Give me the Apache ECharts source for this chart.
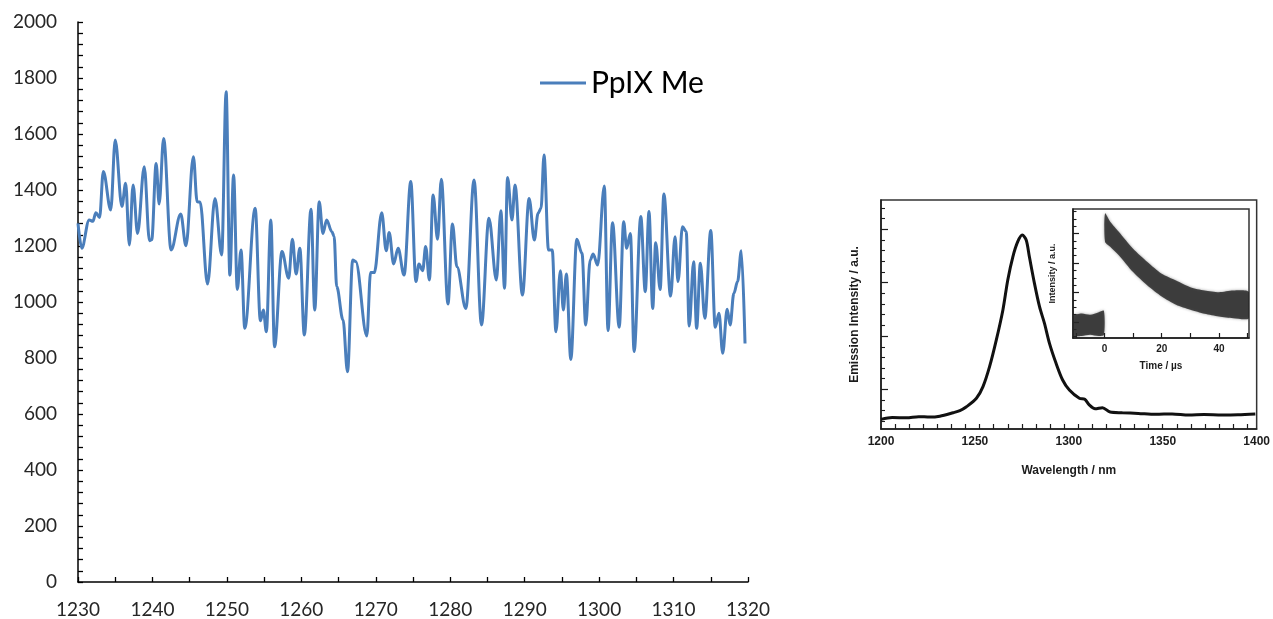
<!DOCTYPE html>
<html>
<head>
<meta charset="utf-8">
<script src="https://cdn.jsdelivr.net/npm/echarts@6/dist/echarts.min.js"></script>
<style>
  html, body { margin: 0; padding: 0; background: #fff; }
  #chart { width: 1273px; height: 619px; }
</style>
</head>
<body>
<div id="chart"></div>
<script>
// PpIX Me emission trace (wavelength in nm, intensity in counts)
const wavelength = [
  1230.0, 1230.5, 1231.5, 1232.0, 1232.4, 1232.9, 1233.4, 1234.4, 1235.0, 1235.9,
  1236.4, 1236.9, 1237.4, 1238.0, 1238.9, 1239.6, 1239.9, 1240.5, 1240.9, 1241.5,
  1242.5, 1243.8, 1244.5, 1245.5, 1246.0, 1246.4, 1247.4, 1248.4, 1249.3, 1249.9,
  1250.4, 1250.9, 1251.4, 1251.9, 1252.4, 1253.8, 1254.5, 1254.9, 1255.3, 1255.9,
  1256.4, 1257.4, 1258.3, 1258.8, 1259.3, 1259.8, 1260.4, 1261.3, 1261.8, 1262.4,
  1262.9, 1263.4, 1264.1, 1264.4, 1264.75, 1265.6, 1266.2, 1266.9, 1267.3, 1268.8,
  1269.3, 1269.8, 1270.8, 1271.4, 1271.8, 1272.4, 1273.0, 1273.8, 1274.7, 1275.4,
  1275.8, 1276.3, 1276.7, 1277.2, 1277.7, 1278.3, 1278.8, 1279.7, 1280.3, 1280.9,
  1282.1, 1283.2, 1284.2, 1285.2, 1286.2, 1286.8, 1287.3, 1287.7, 1288.3, 1288.7,
  1289.7, 1290.6, 1291.3, 1291.8, 1292.2, 1292.6, 1293.2, 1293.7, 1294.2, 1294.8,
  1295.2, 1295.6, 1296.2, 1297.0, 1297.7, 1298.2, 1298.8, 1299.2, 1299.8, 1300.7,
  1301.2, 1301.8, 1302.7, 1303.3, 1303.7, 1304.2, 1304.7, 1305.6, 1306.2, 1306.7,
  1307.2, 1307.6, 1308.2, 1308.7, 1309.6, 1310.2, 1310.6, 1311.2, 1311.7, 1312.1,
  1312.7, 1313.1, 1313.6, 1314.2, 1315.0, 1315.6, 1316.1, 1316.6, 1317.2, 1317.6,
  1318.1, 1318.6, 1319.1, 1319.6
];
const intensity = [
  1281, 1192, 1293, 1288, 1319, 1302, 1466, 1329, 1579, 1341,
  1424, 1204, 1418, 1245, 1483, 1219, 1222, 1495, 1350, 1584,
  1186, 1314, 1201, 1519, 1358, 1357, 1064, 1370, 1168, 1751,
  1096, 1454, 1045, 1186, 906, 1335, 933, 971, 894, 1293,
  840, 1180, 1085, 1224, 1100, 1192, 882, 1331, 971, 1358,
  1245, 1293, 1251, 1235, 1055, 936, 751, 1150, 1145, 879,
  1105, 1105, 1319, 1183, 1248, 1136, 1192, 1096, 1430, 1073,
  1136, 1112, 1198, 1079, 1382, 1224, 1438, 993, 1279, 1126,
  977, 1436, 918, 1299, 1079, 1326, 1049, 1445, 1293, 1418,
  1025, 1370, 1221, 1317, 1335, 1525, 1186, 1186, 894, 1112,
  971, 1100, 795, 1224, 1174, 918, 1150, 1171, 1132, 1414,
  898, 1283, 910, 1287, 1192, 1245, 823, 1305, 1037, 1323,
  977, 1212, 1045, 1386, 1021, 1233, 1073, 1269, 1251, 914,
  1144, 906, 1138, 942, 1255, 910, 960, 817, 974, 918,
  1031, 1073, 1183, 852
];
const seriesName = 'PpIX Me';

// Reference emission spectrum (wavelength in nm, intensity in a.u.)
const specWavelength = [
  1200, 1206, 1213.6, 1220, 1226, 1231.3, 1238.4, 1242, 1245.5, 1250.8,
  1254.3, 1257.8, 1261.4, 1264.9, 1267.5, 1270.2, 1272.8, 1275.2, 1277.3, 1279.0,
  1281.7, 1284.4, 1287.0, 1289.7, 1293.2, 1296.7, 1300.3, 1305.6, 1308.5, 1310.9,
  1314, 1317.9, 1322, 1328.5, 1337, 1346.3, 1355, 1363.9, 1372, 1381.6,
  1390, 1399.3
];
const specIntensity = [
  4.2, 5.0, 4.9, 5.4, 5.2, 5.6, 7.1, 8.0, 9.7, 13.4,
  18.5, 27.2, 38.9, 52.0, 65.1, 75.2, 81.8, 84.7, 82.5, 75.2,
  63.6, 53.4, 46.2, 37.4, 28.7, 21.4, 17.0, 13.4, 13.0, 10.5,
  8.8, 9.3, 7.4, 7.1, 6.8, 6.4, 6.6, 6.1, 6.3, 6.1,
  6.2, 6.6
];
const specXLabels = [1200, 1250, 1300, 1350, 1400];
const specXTicks = [
  1207.5, 1215, 1222.5, 1230, 1237.5, 1245, 1252.5, 1260, 1267.5, 1275,
  1282.5, 1290, 1297.5, 1305, 1312.5, 1320, 1327.5, 1335, 1342.5, 1350,
  1357.5, 1365, 1372.5, 1380, 1387.5, 1395
];
const specYMajorTicks = [17.3, 40.6, 63.9, 87.2];
const specYMinorTicks = [
  3.3, 8.0, 12.6, 22.0, 26.6, 31.3, 35.9, 45.3, 49.9, 54.6,
  59.2, 68.6, 73.2, 77.9, 82.5, 91.9, 96.5
];

// Lifetime trace (time in µs): spread of the measured points, before and after the pulse
const preTime   = [-11, -8, -5, -2, -0.2];
const preLower  = [2, 1.5, 2.5, 1.5, 2.5];
const preUpper  = [17, 19, 18, 20, 21];
const decayTime  = [0.2, 2, 5, 10, 15, 20, 25, 30, 35, 40, 45, 50.5];
const decayLower = [74.6, 70.7, 64.2, 51.1, 40.7, 32.2, 25.8, 21.9, 18.8, 16.7, 15.4, 15.4];
const decayUpper = [96.6, 90.2, 82.4, 69.2, 58.9, 49.8, 44.6, 39.4, 36.8, 35.5, 36.8, 35.5];
const decayXLabels = [0, 20, 40];
const decayXTicks = [-10, 0, 10, 20, 30, 40, 50];
const decayYMajorTicks = [12.5, 35.3, 58.1, 80.9];
const decayYMinorTicks = [
  1.1, 6.8, 18.2, 23.9, 29.6, 41.0, 46.7, 52.4, 63.8, 69.5,
  75.2, 86.6, 92.3, 98.0
];

const mainSeries = wavelength.map((x, i) => [x, intensity[i]]);
const specSeries = specWavelength.map((x, i) => [x, specIntensity[i]]);
const bands = [
  { t: preTime, lo: preLower, hi: preUpper },
  { t: decayTime, lo: decayLower, hi: decayUpper }
];

const mainFont = 'Lato, "Open Sans", sans-serif';
const figFont = '"Liberation Sans", Arial, sans-serif';
const ink = '#1c1c1c';
const plain = v => String(v);

const chart = echarts.init(document.getElementById('chart'), null, { renderer: 'canvas' });

const plainAxis = {
  splitLine: { show: false },
  axisLine: { show: true, onZero: false, lineStyle: { color: ink, width: 1.5 } },
  axisTick: { inside: true, length: 5, lineStyle: { color: ink, width: 1.2 } }
};

// Filled envelope of a point cloud, drawn as a polygon through the axis scales
function bandRenderer(params, api) {
  const band = bands[params.dataIndex];
  const upper = band.t.map((t, i) => api.coord([t, band.hi[i]]));
  const lower = band.t.map((t, i) => api.coord([t, band.lo[i]])).reverse();
  return {
    type: 'polygon',
    shape: { points: upper.concat(lower), smooth: 0.25 },
    style: { fill: '#262626', opacity: 0.82, shadowBlur: 3, shadowColor: 'rgba(60,60,60,0.6)' }
  };
}

chart.setOption({
  animation: false,
  backgroundColor: '#ffffff',
  legend: {
    data: [seriesName],
    left: 540,
    top: 68,
    padding: 0,
    icon: 'rect',
    itemWidth: 46,
    itemHeight: 3,
    textStyle: { fontFamily: mainFont, fontSize: 30, color: '#000' }
  },
  grid: [
    { left: 78, top: 22, width: 670, height: 560, containLabel: false },
    { left: 881, top: 200, width: 377, height: 229, show: true,
      borderColor: '#333', borderWidth: 1.5, backgroundColor: '#fff' },
    { left: 1073, top: 209, width: 176, height: 129, show: true,
      borderColor: '#333', borderWidth: 1.5, backgroundColor: '#fff' }
  ],
  xAxis: [
    {
      gridIndex: 0, type: 'value', min: 1230, max: 1320, interval: 10,
      splitLine: { show: false },
      axisLine: { show: true, onZero: false, lineStyle: { color: '#000', width: 1.5 } },
      axisTick: { show: true, inside: true, length: 5, lineStyle: { color: '#000', width: 1.3 } },
      minorTick: { show: true, splitNumber: 2, length: 5, lineStyle: { color: '#000', width: 1.3 } },
      axisLabel: { formatter: plain, fontFamily: mainFont, fontSize: 19, color: '#262626', margin: 18 }
    },
    Object.assign({}, plainAxis, {
      gridIndex: 1, type: 'value', min: 1200, max: 1400, interval: 50,
      axisTick: { inside: true, length: 5, customValues: specXTicks, lineStyle: { color: ink, width: 1.2 } },
      axisLabel: { customValues: specXLabels, formatter: plain, fontFamily: figFont, fontWeight: 'bold',
                   fontSize: 12, color: ink, margin: 7 },
      name: 'Wavelength / nm', nameLocation: 'middle', nameGap: 36,
      nameTextStyle: { fontFamily: figFont, fontWeight: 'bold', fontSize: 12, color: ink }
    }),
    Object.assign({}, plainAxis, {
      gridIndex: 2, type: 'value', min: -11, max: 50.5,
      axisTick: { inside: true, length: 5, customValues: decayXTicks, lineStyle: { color: ink, width: 1.2 } },
      axisLabel: { customValues: decayXLabels, formatter: plain, fontFamily: figFont, fontWeight: 'bold',
                   fontSize: 10, color: ink, margin: 6 },
      name: 'Time / µs', nameLocation: 'middle', nameGap: 23,
      nameTextStyle: { fontFamily: figFont, fontWeight: 'bold', fontSize: 10, color: ink }
    })
  ],
  yAxis: [
    {
      gridIndex: 0, type: 'value', min: 0, max: 2000, interval: 200,
      splitLine: { show: false },
      axisLine: { show: true, onZero: false, lineStyle: { color: '#000', width: 1.5 } },
      axisTick: { show: true, inside: true, length: 5, lineStyle: { color: '#000', width: 1.3 } },
      minorTick: { show: true, splitNumber: 5, length: 5, lineStyle: { color: '#000', width: 1.3 } },
      axisLabel: { formatter: plain, fontFamily: mainFont, fontSize: 19, color: '#262626', margin: 21 }
    },
    Object.assign({}, plainAxis, {
      gridIndex: 1, type: 'value', min: 0, max: 100, position: 'left',
      axisLabel: { show: false },
      axisTick: { inside: true, length: 7, customValues: specYMajorTicks, lineStyle: { color: ink, width: 1.2 } },
      name: 'Emission Intensity / a.u.', nameLocation: 'middle', nameGap: 20,
      nameTextStyle: { fontFamily: figFont, fontWeight: 'bold', fontSize: 12, color: ink }
    }),
    Object.assign({}, plainAxis, {
      gridIndex: 1, type: 'value', min: 0, max: 100, position: 'left', offset: 0,
      axisLine: { show: false, onZero: false },
      axisLabel: { show: false },
      axisTick: { inside: true, length: 4, customValues: specYMinorTicks, lineStyle: { color: ink, width: 1.1 } }
    }),
    Object.assign({}, plainAxis, {
      gridIndex: 2, type: 'value', min: 0, max: 100, position: 'left',
      axisLabel: { show: false },
      axisTick: { inside: true, length: 6, customValues: decayYMajorTicks, lineStyle: { color: ink, width: 1.2 } },
      name: 'Intensity / a.u.', nameLocation: 'middle', nameGap: 16,
      nameTextStyle: { fontFamily: figFont, fontWeight: 'bold', fontSize: 9, color: ink }
    }),
    Object.assign({}, plainAxis, {
      gridIndex: 2, type: 'value', min: 0, max: 100, position: 'left', offset: 0,
      axisLine: { show: false, onZero: false },
      axisLabel: { show: false },
      axisTick: { inside: true, length: 3.5, customValues: decayYMinorTicks, lineStyle: { color: ink, width: 1.1 } }
    })
  ],
  series: [
    {
      name: seriesName, type: 'line', xAxisIndex: 0, yAxisIndex: 0,
      data: mainSeries, smooth: 0.35, smoothMonotone: 'x',
      symbol: 'none', lineStyle: { color: '#4a7ebb', width: 3 },
      itemStyle: { color: '#4a7ebb' }
    },
    {
      name: 'spectrum', type: 'line', xAxisIndex: 1, yAxisIndex: 1,
      data: specSeries, smooth: 0.3, symbol: 'none',
      lineStyle: { color: '#111', width: 3 }
    },
    {
      name: 'decay', type: 'custom', xAxisIndex: 2, yAxisIndex: 3,
      coordinateSystem: 'cartesian2d', clip: true,
      data: [[0, 0], [1, 1]],
      renderItem: bandRenderer
    }
  ]
});
</script>
</body>
</html>
